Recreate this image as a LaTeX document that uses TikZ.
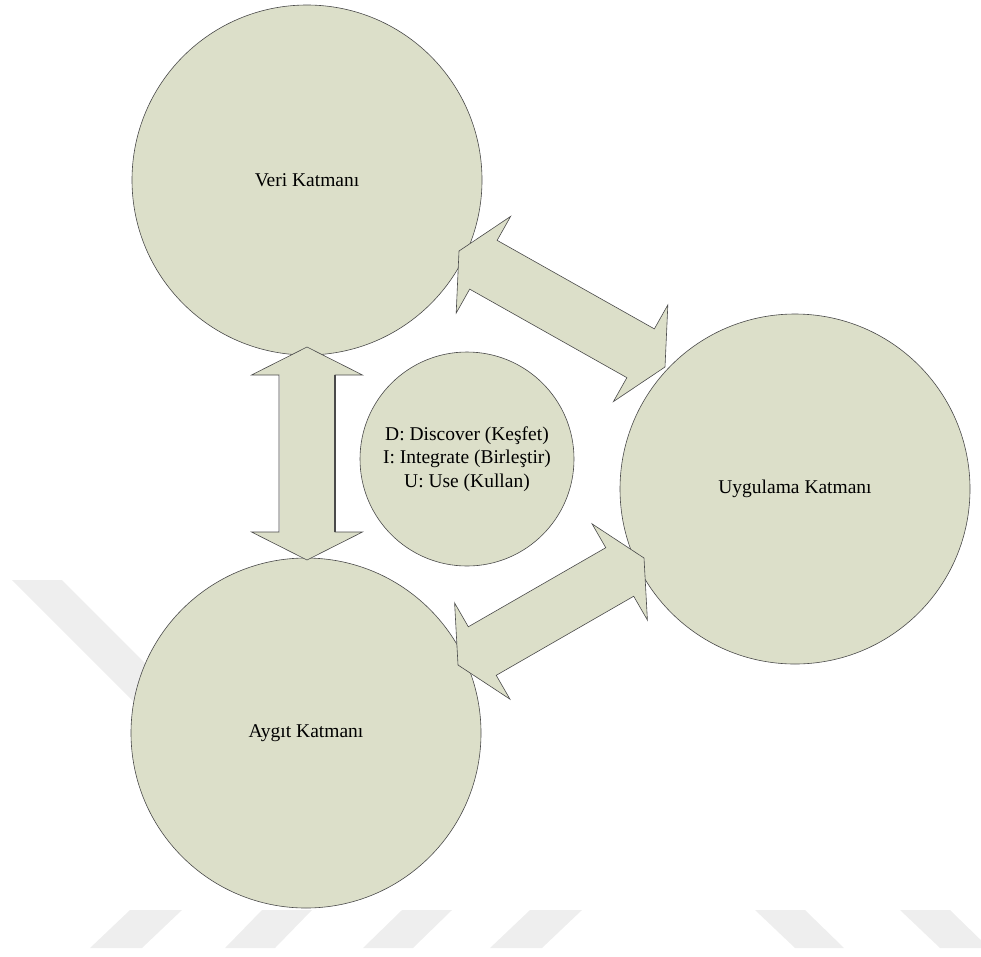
\documentclass[tikz,border=0pt]{standalone}
\usepackage{fontspec}
\setmainfont{Liberation Serif}
\usetikzlibrary{calc}
\definecolor{layerfill}{HTML}{DCDFC9}
\definecolor{layerline}{HTML}{4A4A4A}
\definecolor{wmark}{HTML}{EEEEEE}
\tikzset{
  layer/.style={circle, fill=layerfill, draw=layerline, line width=0.6pt,
    minimum size=350pt, inner sep=0pt, align=center,
    font=\fontsize{19.5}{23.5}\selectfont},
  core/.style={layer, minimum size=214pt},
  arrowbody/.style={fill=layerfill, draw=layerline, line width=0.6pt, line join=miter},
  wm/.style={fill=wmark, draw=none},
}
\newcommand\dblarrow[2]{%
  \path[arrowbody] (#1)
    -- ($(#1)!28pt!(#2)!55.5pt!90:(#2)$)
    -- ($(#1)!28pt!(#2)!28pt!90:(#2)$)
    -- ($(#2)!28pt!(#1)!28pt!-90:(#1)$)
    -- ($(#2)!28pt!(#1)!55.5pt!-90:(#1)$)
    -- (#2)
    -- ($(#2)!28pt!(#1)!55.5pt!90:(#1)$)
    -- ($(#2)!28pt!(#1)!28pt!90:(#1)$)
    -- ($(#1)!28pt!(#2)!28pt!-90:(#2)$)
    -- ($(#1)!28pt!(#2)!55.5pt!-90:(#2)$)
    -- cycle;}
\begin{document}
\begin{tikzpicture}[x=1pt, y=-1pt]
\useasboundingbox (0,0) rectangle (981,956);
% watermark
\fill[wm] (12,580) -- (62,580) -- (202,720) -- (152,720) -- cycle;
\fill[wm] (130,910) -- (182,910) -- (142,948) -- (90,948) -- cycle;
\fill[wm] (262,910) -- (312,910) -- (275,948) -- (225,948) -- cycle;
\fill[wm] (402,910) -- (452,910) -- (413,948) -- (363,948) -- cycle;
\fill[wm] (530,910) -- (582,910) -- (542,948) -- (490,948) -- cycle;
\fill[wm] (755,910) -- (805,910) -- (844,948) -- (795,948) -- cycle;
\fill[wm] (900,910) -- (950,910) -- (989,948) -- (940,948) -- cycle;
% layers
\node[layer] (veri) at (307,180) {Veri Katmanı};
\node[layer] (aygit) at (306,733) {Aygıt Katmanı};
\node[layer] (uyg) at (795,489) {Uygulama Katmanı};
\node[core] (core) at (467,459) {D: Discover (Keşfet)\\I: Integrate (Birleştir)\\U: Use (Kullan)};
% arrow end points
\coordinate (va) at (307,347);
\coordinate (ag) at (307,560);
\coordinate (vu) at (459,251);
\coordinate (uv) at (665,367);
\coordinate (au) at (458,665);
\coordinate (ua) at (644,558);
\dblarrow{va}{ag}
\dblarrow{vu}{uv}
\dblarrow{au}{ua}
% shaft edge shading of the vertical arrow
\draw[gray!55, line width=0.8pt] ($(va)!28pt!(ag)!28pt!-90:(ag)$) -- ($(ag)!28pt!(va)!28pt!90:(va)$);
\draw[layerline, line width=1.1pt] ($(va)!28pt!(ag)!28pt!90:(ag)$) -- ($(ag)!28pt!(va)!28pt!-90:(va)$);
\end{tikzpicture}
\end{document}
